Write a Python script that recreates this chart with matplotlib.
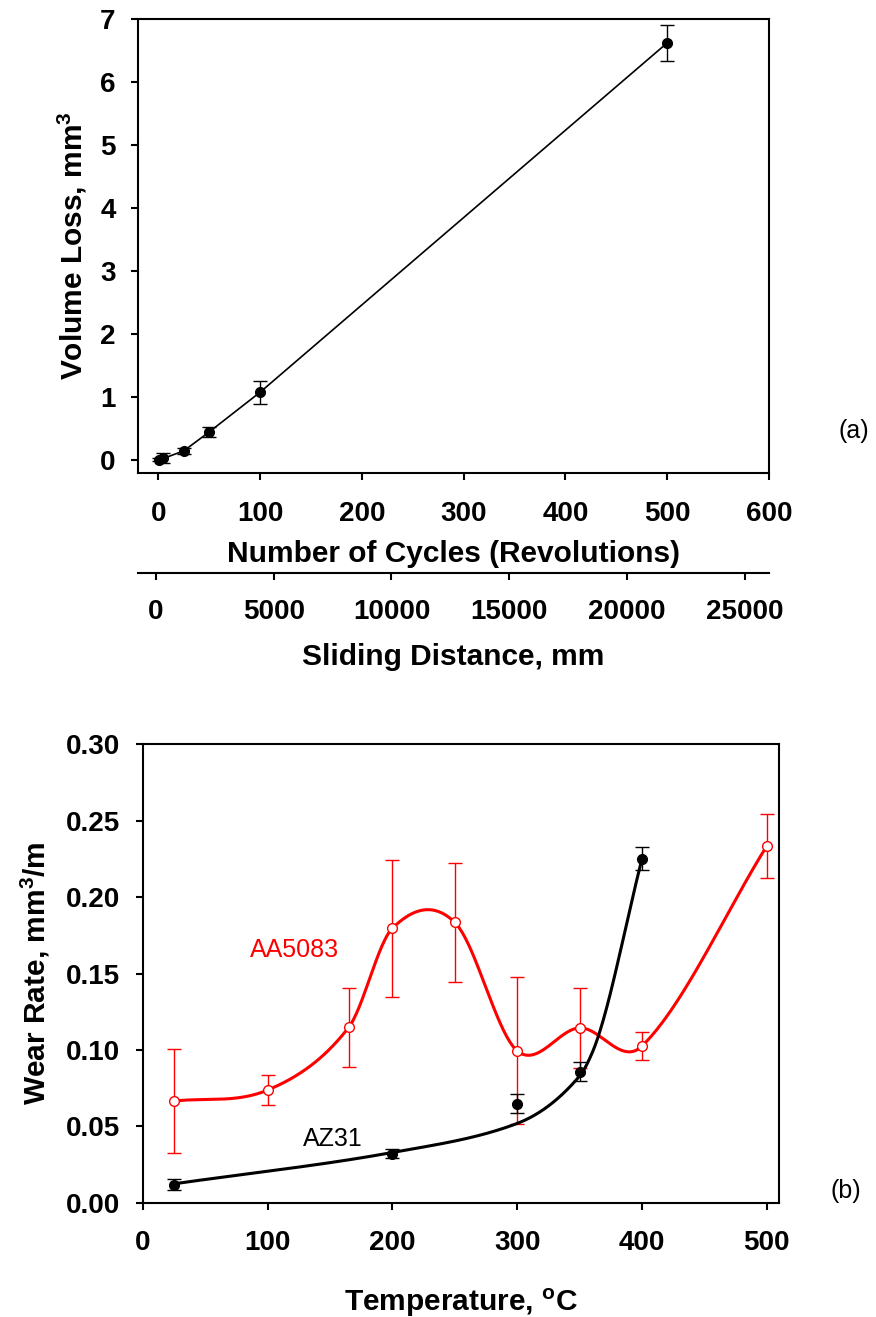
import numpy as np
import matplotlib
matplotlib.use('Agg')
import matplotlib.pyplot as plt

plt.rcParams['font.family'] = 'Liberation Sans'
plt.rcParams['mathtext.fontset'] = 'custom'
plt.rcParams['mathtext.rm'] = 'Liberation Sans'
plt.rcParams['mathtext.bf'] = 'Liberation Sans:bold'
plt.rcParams['mathtext.default'] = 'bf'

# (a) volume loss vs number of cycles
cycles = [1, 5, 25, 50, 100, 500]
vol_loss = [0.01, 0.03, 0.15, 0.45, 1.08, 6.62]
vol_err = [0.02, 0.08, 0.05, 0.08, 0.18, 0.29]
dist_ticks = [0, 5000, 10000, 15000, 20000, 25000]

# (b) wear rate vs temperature
az31_t = [25, 200, 300, 350, 400]
az31_w = [0.0120, 0.0323, 0.0650, 0.0857, 0.2250]
az31_e = [0.0036, 0.0030, 0.0062, 0.0062, 0.0075]
# smoothed trend for AZ31
az31_fit_t = [25, 200, 300, 350, 360, 400]
az31_fit_w = [0.0125, 0.0330, 0.0520, 0.0830, 0.0980, 0.2250]

aa_t = [25, 100, 165, 200, 250, 300, 350, 400, 500]
aa_w = [0.0666, 0.0738, 0.1148, 0.1796, 0.1835, 0.0995, 0.1145, 0.1026, 0.2335]
aa_e = [0.0340, 0.0100, 0.0260, 0.0450, 0.0390, 0.0480, 0.0260, 0.0090, 0.0210]


def hermite(x, y, m, xs):
    x = np.asarray(x, float)
    y = np.asarray(y, float)
    h = np.diff(x)
    k = np.clip(np.searchsorted(x, xs) - 1, 0, len(x) - 2)
    t = (xs - x[k]) / h[k]
    h00 = 2 * t ** 3 - 3 * t ** 2 + 1
    h10 = t ** 3 - 2 * t ** 2 + t
    h01 = -2 * t ** 3 + 3 * t ** 2
    h11 = t ** 3 - t ** 2
    return h00 * y[k] + h10 * h[k] * m[k] + h01 * y[k + 1] + h11 * h[k] * m[k + 1]


def catmull_rom(x, y, xs):
    x = np.asarray(x, float)
    y = np.asarray(y, float)
    m = np.zeros(len(x))
    m[1:-1] = (y[2:] - y[:-2]) / (x[2:] - x[:-2])
    m[0] = (y[1] - y[0]) / (x[1] - x[0])
    m[-1] = (y[-1] - y[-2]) / (x[-1] - x[-2])
    return hermite(x, y, m, xs)


def pchip(x, y, xs):
    x = np.asarray(x, float)
    y = np.asarray(y, float)
    h = np.diff(x)
    delta = np.diff(y) / h
    n = len(x)
    m = np.zeros(n)
    for k in range(1, n - 1):
        if delta[k - 1] * delta[k] > 0:
            w1 = 2 * h[k] + h[k - 1]
            w2 = h[k] + 2 * h[k - 1]
            m[k] = (w1 + w2) / (w1 / delta[k - 1] + w2 / delta[k])
    m[0] = delta[0]
    m[-1] = delta[-1]
    return hermite(x, y, m, xs)


fig = plt.figure(figsize=(8.76, 13.17), dpi=100)

tick_kw = dict(direction='out', length=5, width=1.5, labelsize=20)

# ---- panel (a)
ax1 = fig.add_axes([0.1575, 0.6409, 0.7203, 0.3447])
ax1.errorbar(cycles, vol_loss, yerr=vol_err, fmt='o-', color='black', ms=7,
             lw=1.2, elinewidth=1, capsize=5, capthick=1)
ax1.set_xlim(-20, 600)
ax1.set_ylim(-0.2, 7)
ax1.set_xticks([0, 100, 200, 300, 400, 500, 600])
ax1.set_yticks(range(0, 8))
ax1.tick_params(axis='x', pad=15.5, **tick_kw)
ax1.tick_params(axis='y', pad=11, **tick_kw)
for tl in ax1.get_xticklabels() + ax1.get_yticklabels():
    tl.set_fontweight('bold')
for s in ax1.spines.values():
    s.set_linewidth(1.5)
ax1.set_xlabel('Number of Cycles (Revolutions)', fontsize=21.5, fontweight='bold', labelpad=9)
ax1.set_ylabel(r'Volume Loss, mm$^3$', fontsize=21.5, fontweight='bold', labelpad=8)

ax2 = ax1.twiny()
ax2.set_xlim(-764, 26030)
ax2.set_xticks(dist_ticks)
ax2.xaxis.set_ticks_position('bottom')
ax2.xaxis.set_label_position('bottom')
ax2.spines['bottom'].set_position(('outward', 72))
ax2.spines['bottom'].set_linewidth(1.5)
for side in ['top', 'left', 'right']:
    ax2.spines[side].set_visible(False)
ax2.tick_params(axis='x', pad=13.5, **tick_kw)
for tl in ax2.get_xticklabels():
    tl.set_fontweight('bold')
ax2.set_xlabel('Sliding Distance, mm', fontsize=21.5, fontweight='bold', labelpad=13)

fig.text(0.975, 0.673, '(a)', fontsize=18, ha='center', va='center')

# ---- panel (b)
ax = fig.add_axes([0.1629, 0.0866, 0.7267, 0.3483])
tt = np.linspace(25, 500, 400)
ax.plot(tt, catmull_rom(aa_t, aa_w, tt), color='red', lw=2.2, zorder=2)
ax.errorbar(aa_t, aa_w, yerr=aa_e, fmt='o', color='red', mfc='white', mec='red',
            ms=7, mew=1, elinewidth=1, capsize=5, capthick=1, zorder=3)
tb = np.linspace(25, 400, 400)
ax.plot(tb, pchip(az31_fit_t, az31_fit_w, tb), color='black', lw=2.2, zorder=4)
ax.errorbar(az31_t, az31_w, yerr=az31_e, fmt='o', color='black', ms=7,
            elinewidth=1, capsize=5, capthick=1, zorder=5)
ax.text(86, 0.1655, 'AA5083', color='red', fontsize=18, ha='left', va='center')
ax.text(128, 0.0417, 'AZ31', color='black', fontsize=18, ha='left', va='center')

ax.set_xlim(0, 510)
ax.set_ylim(0, 0.30)
ax.set_xticks([0, 100, 200, 300, 400, 500])
ax.set_yticks(np.arange(0, 0.31, 0.05))
ax.set_yticklabels(['%.2f' % v for v in np.arange(0, 0.31, 0.05)])
ax.tick_params(axis='x', pad=14.5, **tick_kw)
ax.tick_params(axis='y', pad=11, **tick_kw)
for tl in ax.get_xticklabels() + ax.get_yticklabels():
    tl.set_fontweight('bold')
for s in ax.spines.values():
    s.set_linewidth(1.5)
ax.set_xlabel(r'Temperature, $^\mathbf{o}$C', fontsize=21.5, fontweight='bold', labelpad=22)
ax.set_ylabel(r'Wear Rate, mm$^3$/m', fontsize=21.5, fontweight='bold', labelpad=10)

fig.text(0.966, 0.096, '(b)', fontsize=18, ha='center', va='center')

fig.savefig('out.png', dpi=100)
